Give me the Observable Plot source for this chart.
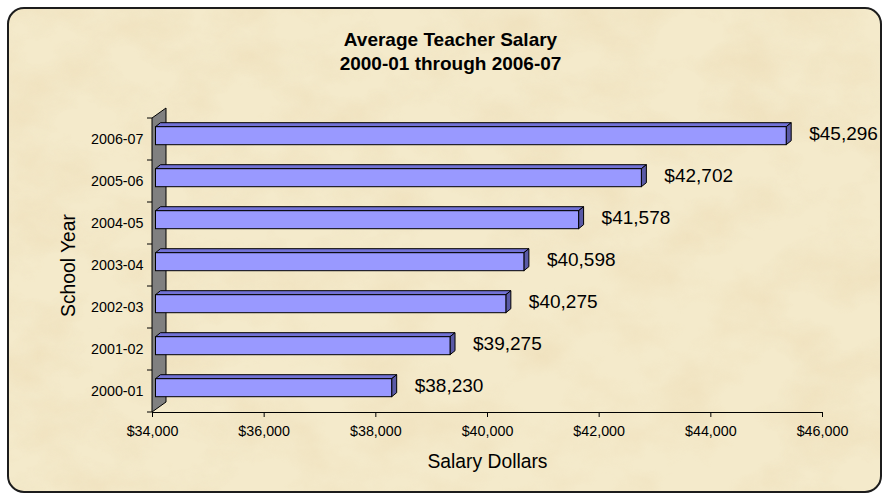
<!DOCTYPE html>
<html>
<head>
<meta charset="utf-8">
<script src="https://cdn.jsdelivr.net/npm/d3@7"></script>
<script src="https://cdn.jsdelivr.net/npm/@observablehq/plot@0.6"></script>
<style>
  html, body { margin: 0; padding: 0; background: #ffffff; }
  #chart { position: relative; width: 882px; height: 493px; overflow: hidden; }
  #chart > svg { display: block; position: absolute; left: 0; top: 0; }
  #chart g[aria-label="x-axis tick label"],
  #chart g[aria-label="y-axis tick label"] { font-size: 14.3px; fill: #000; }
  #chart g[aria-label="x-axis tick"], #chart g[aria-label="x-axis line"] { stroke: #000; }
</style>
</head>
<body>
<div id="chart"></div>
<script>
// ---- data ----
const years = ["2000-01", "2001-02", "2002-03", "2003-04", "2004-05", "2005-06", "2006-07"];
const salaries = [38230, 39275, 40275, 40598, 41578, 42702, 45296];
const xTicks = [34000, 36000, 38000, 40000, 42000, 44000, 46000];
const titleLines = ["Average Teacher Salary", "2000-01 through 2006-07"];
const xLabel = "Salary Dollars";
const yLabel = "School Year";

const table = years.map((year, i) => ({year, salary: salaries[i]}));
const FONT = "'Liberation Sans', Arial, Helvetica, sans-serif";
const money = d => "$" + d3.format(",")(d);
const BASE = xTicks[0];

// parchment background + rounded frame (decorative, behind the plot)
(function drawBackground() {
  const svg = d3.select("#chart").append("svg").attr("width", 882).attr("height", 493);
  const defs = svg.append("defs");
  const f = defs.append("filter").attr("id", "parch").attr("x", 0).attr("y", 0).attr("width", "100%").attr("height", "100%");
  f.append("feTurbulence").attr("type", "fractalNoise").attr("baseFrequency", "0.014 0.02").attr("numOctaves", 5).attr("seed", 7);
  f.append("feColorMatrix").attr("type", "matrix")
    .attr("values", "0 0 0 0 0.82  0 0 0 0 0.66  0 0 0 0 0.40  1.4 0 0 0 -0.56");
  const clip = defs.append("clipPath").attr("id", "frameclip");
  clip.append("rect").attr("x", 8).attr("y", 8).attr("width", 873).attr("height", 484).attr("rx", 16);
  svg.append("rect").attr("x", 8).attr("y", 8).attr("width", 873).attr("height", 484).attr("rx", 16)
    .attr("fill", "#f4eacb");
  svg.append("rect").attr("x", 8).attr("y", 8).attr("width", 873).attr("height", 484)
    .attr("clip-path", "url(#frameclip)").attr("filter", "url(#parch)").attr("opacity", 0.55);
  svg.append("rect").attr("x", 8).attr("y", 8).attr("width", 873).attr("height", 484).attr("rx", 16)
    .attr("fill", "none").attr("stroke", "#1c1c1c").attr("stroke-width", 2);
})();

// 3-D side wall and category boundary ticks
function wall(index, scales, values, dims) {
  const g = d3.create("svg:g");
  const x0 = scales.x(BASE);
  const top = dims.marginTop, bottom = dims.height - dims.marginBottom;
  const dx = 14, dy = -10;
  g.append("path")
    .attr("d", `M${x0},${bottom}L${x0},${top}L${x0 + dx},${top + dy}L${x0 + dx},${bottom + dy}Z`)
    .attr("fill", "#808080").attr("stroke", "#000").attr("stroke-width", 1);
  const step = scales.y.step();
  for (let i = 0; i <= years.length; i++) {
    const yy = top + i * step;
    g.append("line").attr("x1", x0 - 5).attr("x2", x0).attr("y1", yy).attr("y2", yy)
      .attr("stroke", "#000");
  }
  return g.node();
}

// top and right faces of the 3-D bars
function barSides(index, scales, values, dims) {
  const g = d3.create("svg:g");
  const bw = scales.y.bandwidth();
  const dx = 5, dy = -4, sx = 3.5, sy = -3.3;
  table.forEach(d => {
    const xl = scales.x(BASE) + sx, xr = scales.x(d.salary) + sx;
    const yt = scales.y(d.year) + sy, yb = yt + bw;
    g.append("path")
      .attr("d", `M${xl},${yt}L${xl + dx},${yt + dy}L${xr + dx},${yt + dy}L${xr},${yt}Z`)
      .attr("fill", "#7272d6").attr("stroke", "#000").attr("stroke-width", 1).attr("stroke-linejoin", "round");
    g.append("path")
      .attr("d", `M${xr},${yt}L${xr + dx},${yt + dy}L${xr + dx},${yb + dy}L${xr},${yb}Z`)
      .attr("fill", "#5a5aa6").attr("stroke", "#000").attr("stroke-width", 1).attr("stroke-linejoin", "round");
  });
  return g.node();
}

const chart = Plot.plot({
  width: 882,
  height: 493,
  marginLeft: 152,
  marginRight: 60,
  marginTop: 118,
  marginBottom: 81,
  style: {background: "transparent", fontFamily: FONT, fontSize: "14.3px", color: "#000", overflow: "visible"},
  x: {domain: [xTicks[0], xTicks[xTicks.length - 1]], ticks: xTicks, tickFormat: money,
      tickSize: 5, tickPadding: 8, line: true, label: null},
  y: {domain: years.slice().reverse(), paddingInner: 0.57, paddingOuter: 0.285,
      tickSize: 0, tickPadding: 9, label: null},
  marks: [
    wall,
    barSides,
    Plot.barX(table, {x1: () => BASE, x2: "salary", y: "year", fill: "#9999ff",
      stroke: "#000", strokeWidth: 1, dx: 3.5, dy: -3.3}),
    Plot.text(table, {x: "salary", y: "year", text: d => money(d.salary), textAnchor: "start",
      dx: 26, dy: -5.5, fontSize: 19, fill: "#000"}),
    Plot.text([titleLines.join("\n")], {frameAnchor: "top", text: d => d, textAnchor: "middle",
      lineAnchor: "top", lineHeight: 1.27, dx: -37, dy: -89.7, fontSize: 19, fontWeight: "bold", fill: "#000"}),
    Plot.text([xLabel], {frameAnchor: "bottom", text: d => d, textAnchor: "middle", lineAnchor: "middle",
      dy: 49, fontSize: 19.3, fill: "#000"}),
    Plot.text([yLabel], {frameAnchor: "left", text: d => d, textAnchor: "middle", lineAnchor: "middle",
      rotate: -90, dx: -84, fontSize: 19.3, fill: "#000"})
  ]
});
document.getElementById("chart").appendChild(chart);
</script>
</body>
</html>
